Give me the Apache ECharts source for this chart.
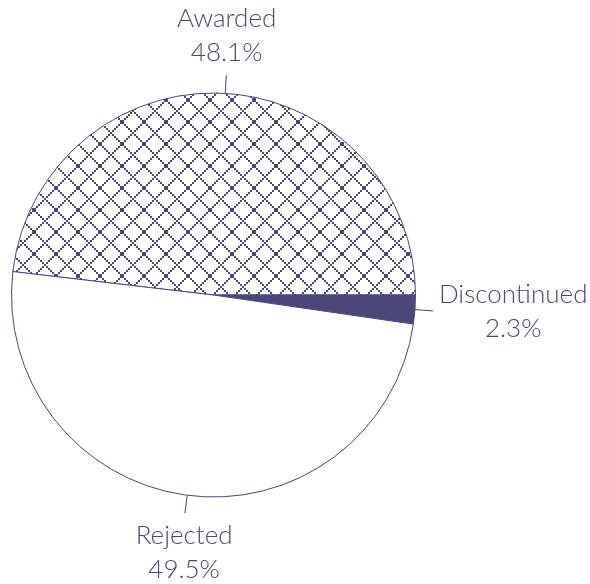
<!DOCTYPE html>
<html>
<head>
<meta charset="utf-8">
<script src="https://cdn.jsdelivr.net/npm/echarts@6/dist/echarts.min.js"></script>
<style>
html,body{margin:0;padding:0;background:#fff;}
#chart{width:590px;height:584px;}
</style>
</head>
<body>
<div id="chart"></div>
<script>
// ---- data ----
const categories = ['Awarded', 'Discontinued', 'Rejected'];
const values = [48.1, 2.3, 49.5];

// ---- style ----
const INK = '#4b4778';
const CX = 213.5, CY = 295, R = 202;
const TICK = 18, GAP = 6;

function makeHatch() {
  const P = 22, c = document.createElement('canvas');
  c.width = P; c.height = P;
  const g = c.getContext('2d');
  g.fillStyle = '#ffffff'; g.fillRect(0, 0, P, P);
  g.fillStyle = INK;
  const n = P / 2;
  for (let by = 0; by < n; by++) {
    for (let bx = 0; bx < n; bx++) {
      if (((bx - by) % n + n) % n === 0 || (bx + by) % n === 0) {
        g.fillRect(bx * 2, by * 2, 2, 2);
      }
    }
  }
  return c;
}

const hatch = makeHatch();
const total = values.reduce((a, b) => a + b, 0);
const startAngle = values[0] / total * 360;

const fills = [
  { image: hatch, repeat: 'repeat' },
  INK,
  '#ffffff'
];

// mid angles (degrees, math convention) for label placement
const mids = [];
(function () {
  let a = startAngle;
  values.forEach(v => {
    const span = v / total * 360;
    mids.push(a - span / 2);
    a -= span;
  });
})();

const chart = echarts.init(document.getElementById('chart'), null, { renderer: 'canvas' });

chart.setOption({
  backgroundColor: '#ffffff',
  animation: false,
  series: [
    {
      type: 'pie',
      center: [CX, CY],
      radius: R,
      startAngle: startAngle,
      clockwise: true,
      avoidLabelOverlap: false,
      silent: true,
      data: categories.map((name, i) => ({
        name: name,
        value: values[i],
        itemStyle: { color: fills[i], borderColor: INK, borderWidth: 1 }
      })),
      label: { show: true, position: 'outside', formatter: ' ', fontSize: 1 },
      labelLine: { show: true, length: TICK, length2: 0, smooth: false, lineStyle: { color: INK, width: 1 } }
    },
    {
      type: 'pie',
      center: [CX, CY],
      radius: R,
      startAngle: startAngle,
      clockwise: true,
      avoidLabelOverlap: false,
      silent: true,
      z: 3,
      data: categories.map((name, i) => ({
        name: name,
        value: values[i],
        itemStyle: { color: 'rgba(0,0,0,0)', borderWidth: 0 }
      })),
      label: {
        show: true,
        position: 'outside',
        formatter: p => p.name + '\n' + p.value.toFixed(1) + '%',
        fontFamily: 'Lato',
        fontWeight: 300,
        fontSize: 26,
        lineHeight: 34,
        color: INK,
        align: 'center'
      },
      labelLine: { show: false },
      labelLayout: function (params) {
        const i = params.dataIndex;
        const a = mids[i] * Math.PI / 180;
        const c = Math.cos(a), s = Math.sin(a);
        const d = R + TICK + GAP;
        let x = CX + d * c, y = CY - d * s;
        const w = params.labelRect.width;
        if (Math.abs(c) >= 0.5) x += (c > 0 ? 1 : -1) * w / 2;
        let va = 'middle';
        if (s > 0.5) va = 'bottom';
        else if (s < -0.5) va = 'top';
        return { x: x, y: y, align: 'center', verticalAlign: va };
      }
    }
  ]
});
</script>
</body>
</html>
